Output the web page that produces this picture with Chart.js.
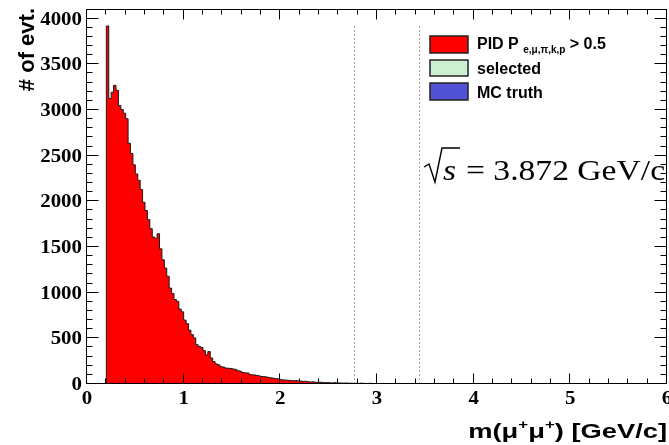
<!DOCTYPE html>
<html>
<head>
<meta charset="utf-8">
<script src="https://cdn.jsdelivr.net/npm/chart.js@4/dist/chart.umd.min.js"></script>
<style>
  html, body { margin: 0; padding: 0; background: #ffffff; }
  #wrap { width: 669px; height: 445px; }
</style>
</head>
<body>
<div id="wrap"><canvas id="c" width="669" height="445"></canvas></div>
<script>
// Di-muon invariant mass histogram, fixed-width bins starting at the threshold.
const binWidth = 0.025;   // GeV/c
const firstEdge = 0.2;    // left edge of the first filled bin

// events per bin, PID P(e,mu,pi,k,p) > 0.5
const pidCounts = [
  3920, 3125, 3195, 3270, 3215, 3050, 3005, 2965, 2905, 2635,
  2525, 2400, 2300, 2230, 2130, 1990, 1900, 1800, 1700, 1610,
  1595, 1645, 1480, 1360, 1270, 1180, 1050, 990, 925, 905,
  820, 790, 700, 660, 590, 540, 505, 430, 410, 400,
  365, 320, 355, 285, 245, 220, 210, 190, 185, 175,
  172, 170, 165, 160, 145, 140, 125, 122, 120, 105,
  100, 98, 94, 88, 82, 80, 76, 70, 66, 62,
  58, 55, 46, 44, 42, 40, 38, 36, 37, 34,
  32, 28, 30, 25, 22, 24, 20, 18, 20, 17,
  15, 16, 14, 12, 15, 11, 12, 10, 9, 11,
  8, 9, 7, 8, 6, 9, 7, 5, 6, 8,
  5, 4, 5, 3, 6, 4, 3, 5, 2, 4,
  3, 2, 4, 3, 2, 3, 2, 3, 2, 1,
  2, 3, 1, 2, 2, 1, 2, 1, 2, 1,
  1, 2, 1, 0, 1, 2, 1, 0, 1, 1,
  0, 1, 1, 0, 1, 1, 0, 1, 0, 1,
  0, 1, 1, 0, 1, 0, 0, 1, 0, 1,
  0, 0, 1, 0, 0, 1, 0, 1, 0, 0,
  1, 0, 0, 1, 0, 0, 1, 0, 0, 1,
  0, 1, 0, 1, 0, 1, 0, 1, 0, 1
];
const selectedCounts = [];
const mcTruthCounts = [];

const seriesNames = ['PID P', 'selected', 'MC truth'];
const xTickLabels = ['0', '1', '2', '3', '4', '5', '6'];
const yTickLabels = ['0', '500', '1000', '1500', '2000', '2500', '3000', '3500', '4000'];
const massWindow = [2.76, 3.43];   // vertical marker lines
const markerTop = 3920;
const yMax = 4095;

// Convert bin contents to step points at bin edges.
function toSteps(counts) {
  if (!counts.length) return [];
  const pts = [{ x: 0, y: 0 }, { x: firstEdge, y: 0 }];
  counts.forEach((c, i) => pts.push({ x: firstEdge + i * binWidth, y: c }));
  const end = firstEdge + counts.length * binWidth;
  pts.push({ x: end, y: 0 });
  pts.push({ x: 6, y: 0 });
  return pts;
}

const SERIF = '"Liberation Serif", "Times New Roman", serif';
const SANS = '"Liberation Sans", Arial, Helvetica, sans-serif';

function stretchedText(ctx, text, x, y, font, align, sx) {
  ctx.save();
  ctx.font = font;
  const w = ctx.measureText(text).width * sx;
  let x0 = x;
  if (align === 'center') x0 = x - w / 2;
  else if (align === 'right') x0 = x - w;
  ctx.translate(x0, y);
  ctx.scale(sx, 1);
  ctx.textAlign = 'left';
  ctx.fillText(text, 0, 0);
  ctx.restore();
}

// Draws a run of text pieces with their own font and vertical shift,
// squeezed or widened horizontally by sx.
function richText(ctx, pieces, x, y, align, sx) {
  sx = sx || 1;
  let total = 0;
  pieces.forEach(p => { ctx.font = p.font; p.w = ctx.measureText(p.t).width; total += p.w; });
  const x0 = align === 'right' ? x - total * sx : x;
  ctx.save();
  ctx.translate(x0, y);
  ctx.scale(sx, 1);
  ctx.textAlign = 'left';
  let cx = 0;
  pieces.forEach(p => { ctx.font = p.font; ctx.fillText(p.t, cx, p.dy || 0); cx += p.w; });
  ctx.restore();
  return total * sx;
}

const rootStyle = {
  id: 'rootStyle',
  afterDatasetsDraw(chart) {
    const ctx = chart.ctx;
    const xs = chart.scales.x, ys = chart.scales.y;
    const a = chart.chartArea;
    const L = Math.round(a.left) - 0.5, R = Math.round(a.right) - 0.5;
    const T = Math.round(a.top) - 0.5, B = Math.round(a.bottom) - 0.5;
    ctx.save();

    // dotted mass-window markers
    ctx.strokeStyle = '#a0a0a0';
    ctx.lineWidth = 1;
    ctx.setLineDash([2, 2]);
    massWindow.forEach(v => {
      const px = Math.round(xs.getPixelForValue(v)) + 0.5;
      ctx.beginPath();
      ctx.moveTo(px, ys.getPixelForValue(0));
      ctx.lineTo(px, ys.getPixelForValue(markerTop));
      ctx.stroke();
    });
    ctx.setLineDash([]);

    // frame
    ctx.strokeStyle = '#000';
    ctx.lineWidth = 1;
    ctx.strokeRect(L, T, R - L, B - T);

    // x ticks, bottom and top, pointing inward
    ctx.beginPath();
    for (let i = 0; i <= 30; i++) {
      const v = i * 0.2;
      const px = Math.round(xs.getPixelForValue(v)) - 0.5;
      const len = (i % 5 === 0) ? 10 : 5;
      ctx.moveTo(px, B); ctx.lineTo(px, B - len);
      ctx.moveTo(px, T); ctx.lineTo(px, T + len);
    }
    // y ticks, left and right
    for (let i = 0; i <= 40; i++) {
      const v = i * 100;
      const py = Math.round(ys.getPixelForValue(v)) - 0.5;
      const len = (i % 5 === 0) ? 12 : 6;
      ctx.moveTo(L, py); ctx.lineTo(L + len, py);
      ctx.moveTo(R, py); ctx.lineTo(R - len, py);
    }
    ctx.stroke();

    // tick labels
    ctx.fillStyle = '#000';
    ctx.textBaseline = 'alphabetic';
    xTickLabels.forEach(lbl => {
      const px = xs.getPixelForValue(parseFloat(lbl));
      stretchedText(ctx, lbl, px, 404, 'bold 19px ' + SERIF, 'center', 1.1);
    });
    ctx.textBaseline = 'middle';
    yTickLabels.forEach(lbl => {
      const py = ys.getPixelForValue(parseFloat(lbl));
      stretchedText(ctx, lbl, 82, py + 1, 'bold 19px ' + SERIF, 'right', 1.1);
    });

    // axis titles
    ctx.textBaseline = 'alphabetic';
    ctx.save();
    ctx.translate(34, 8);
    ctx.rotate(-Math.PI / 2);
    ctx.font = 'bold 22px ' + SANS;
    ctx.textAlign = 'right';
    ctx.fillText('# of evt.', 0, 0);
    ctx.restore();

    const tf = 'bold 21px ' + SANS, sf = 'bold 13px ' + SANS;
    richText(ctx, [
      { t: 'm(\u03bc', font: tf }, { t: '+', font: sf, dy: -9 },
      { t: '\u03bc', font: tf }, { t: '+', font: sf, dy: -9 },
      { t: ') [GeV/c]', font: tf }
    ], 667, 438, 'right', 1.3);

    // legend
    const ds = chart.data.datasets;
    const boxes = [[36, 17], [60, 16], [83, 17]];
    const baselines = [49, 74, 98];
    ds.forEach((d, i) => {
      ctx.fillStyle = d.backgroundColor;
      ctx.fillRect(430, boxes[i][0], 38, boxes[i][1]);
      ctx.strokeStyle = '#222';
      ctx.lineWidth = 1.5;
      ctx.strokeRect(430, boxes[i][0], 38, boxes[i][1]);
      ctx.fillStyle = '#000';
      if (i === 0) {
        const lf = 'bold 16px ' + SANS;
        richText(ctx, [
          { t: d.label + ' ', font: lf },
          { t: 'e,\u03bc,\u03c0,k,p', font: 'bold 10px ' + SANS, dy: 4 },
          { t: ' > 0.5', font: lf }
        ], 477, baselines[i], 'left', 1);
      } else {
        ctx.font = 'bold 16px ' + SANS;
        ctx.textAlign = 'left';
        ctx.fillText(d.label, 477, baselines[i]);
      }
    });

    // centre-of-mass energy
    ctx.strokeStyle = '#000';
    ctx.lineWidth = 1.4;
    ctx.beginPath();
    ctx.moveTo(424, 167); ctx.lineTo(429, 164); ctx.lineTo(435, 182);
    ctx.lineTo(442, 148); ctx.lineTo(460, 148);
    ctx.stroke();
    ctx.fillStyle = '#000';
    richText(ctx, [{ t: 's', font: 'italic 30px ' + SERIF }], 443, 180, 'left', 1.12);
    richText(ctx, [{ t: '= 3.872 GeV/c', font: '30px ' + SERIF }], 466, 180, 'left', 1.12);

    ctx.restore();
  }
};

new Chart(document.getElementById('c'), {
  type: 'line',
  data: {
    datasets: [
      {
        label: seriesNames[0],
        data: toSteps(pidCounts),
        stepped: 'before',
        fill: 'origin',
        backgroundColor: '#ff0000',
        borderColor: '#1a1a1a',
        borderWidth: 1,
        pointRadius: 0
      },
      {
        label: seriesNames[1],
        data: toSteps(selectedCounts),
        stepped: 'before',
        fill: 'origin',
        backgroundColor: '#ccf2d2',
        borderColor: '#1a1a1a',
        borderWidth: 1,
        pointRadius: 0
      },
      {
        label: seriesNames[2],
        data: toSteps(mcTruthCounts),
        stepped: 'before',
        fill: 'origin',
        backgroundColor: '#5252d4',
        borderColor: '#1a1a1a',
        borderWidth: 1,
        pointRadius: 0
      }
    ]
  },
  options: {
    responsive: false,
    animation: false,
    devicePixelRatio: 1,
    layout: { padding: { top: 10, right: 2, left: 0, bottom: 0 } },
    plugins: { legend: { display: false }, tooltip: { enabled: false } },
    scales: {
      x: {
        type: 'linear', min: 0, max: 6,
        grid: { display: false }, border: { display: false },
        ticks: { display: false },
        afterFit(s) { s.height = 61; }
      },
      y: {
        type: 'linear', min: 0, max: yMax,
        grid: { display: false }, border: { display: false },
        ticks: { display: false },
        afterFit(s) { s.width = 87; }
      }
    }
  },
  plugins: [rootStyle]
});
</script>
</body>
</html>
